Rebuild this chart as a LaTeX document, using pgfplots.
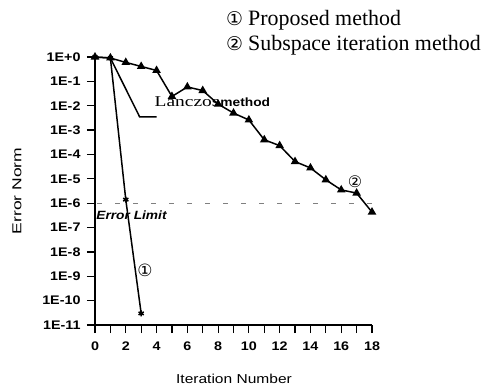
\documentclass[border=0pt]{standalone}
\usepackage{fontspec}
\setmainfont{Liberation Serif}
\setsansfont{Liberation Sans}
\newfontfamily\dejavu{DejaVu Sans}
\usepackage{pgfplots}
\pgfplotsset{compat=1.18}
\newcommand\wl[1]{\scalebox{1.15}[1]{#1}}
\begin{document}
\begin{tikzpicture}[x=1bp,y=1bp]
\path[use as bounding box] (-95,-61) rectangle (403,325);
\begin{axis}[
  at={(0,0)}, anchor=south west,
  scale only axis, width=277bp, height=268bp,
  axis x line*=bottom, axis y line*=left,
  axis line style={line width=1.5bp},
  xmin=0, xmax=18, ymin=1e-11, ymax=1,
  ymode=log,
  ytick={1,1e-1,1e-2,1e-3,1e-4,1e-5,1e-6,1e-7,1e-8,1e-9,1e-10,1e-11},
  yticklabels={\wl{1E+0},\wl{1E-1},\wl{1E-2},\wl{1E-3},\wl{1E-4},\wl{1E-5},\wl{1E-6},\wl{1E-7},\wl{1E-8},\wl{1E-9},\wl{1E-10},\wl{1E-11}},
  yminorticks=false,
  xtick={0,2,...,18},
  xticklabels={\wl{0},\wl{2},\wl{4},\wl{6},\wl{8},\wl{10},\wl{12},\wl{14},\wl{16},\wl{18}},
  minor xtick={1,3,...,17},
  tick align=outside, major tick length=8bp, minor tick length=8bp,
  tick style={black, line width=1.2bp},
  ticklabel style={font=\sffamily\bfseries\fontsize{12.5}{12.5}\selectfont},
  xticklabel style={yshift=-5bp},
  yticklabel style={xshift=-3bp},
  clip=false,
]
% error limit
\addplot[gray, line width=1bp, dash pattern=on 5bp off 13bp] coordinates {(0.15,1e-6) (18,1e-6)};
% Lanczos method
\addplot[black, line width=1.5bp, mark=none] coordinates {(1,0.91) (2.9,3.5e-3) (4,3.5e-3)};
% Subspace iteration method
\addplot[black, line width=1.5bp, mark=triangle*, mark size=3.5bp] coordinates {
(0,1) (1,0.91) (2,0.60) (3,0.41) (4,0.28) (5,0.024) (6,0.059) (7,0.042) (8,0.0117) (9,0.0050)
(10,0.0026) (11,4.0e-4) (12,2.3e-4) (13,5.1e-5) (14,2.8e-5) (15,9.1e-6) (16,3.5e-6) (17,2.6e-6) (18,4.3e-7)};
% Proposed method
\addplot[black, line width=1.5bp, mark=asterisk, mark size=3bp] coordinates {
(0,1) (1,0.91) (2,1.4e-6) (3,3.0e-11)};
\node[font=\fontsize{15}{15}\selectfont, inner sep=0] at (axis cs:7.63,0.015) {\scalebox{1.3}[1]{Lanczos}\hspace{1bp}{\sffamily\bfseries\fontsize{12}{12}\selectfont\wl{method}}};
\node[font=\sffamily\bfseries\itshape\fontsize{12}{12}\selectfont, inner sep=0] at (axis cs:2.37,3.3e-7) {\wl{Error Limit}};
\node[font=\dejavu\fontsize{17}{17}\selectfont, inner sep=0] at (axis cs:3.25,1.7e-9) {①};
\node[font=\dejavu\fontsize{16}{16}\selectfont, inner sep=0] at (axis cs:16.9,7.6e-6) {②};
\end{axis}
\node[anchor=west, inner sep=0, font=\fontsize{22}{22}\selectfont] at (131,305) {{\dejavu\fontsize{19}{19}\selectfont ①}\hspace{5bp}Proposed method};
\node[anchor=west, inner sep=0, font=\fontsize{22}{22}\selectfont] at (131,280) {{\dejavu\fontsize{19}{19}\selectfont ②}\hspace{5bp}Subspace iteration method};
\node[font=\sffamily\fontsize{13}{13}\selectfont, inner sep=0] at (139,-54) {\scalebox{1.2}[1]{Iteration Number}};
\node[font=\sffamily\fontsize{13}{13}\selectfont, inner sep=0, rotate=90] at (-78,134) {\scalebox{1.35}[1]{Error Norm}};
\end{tikzpicture}
\end{document}
